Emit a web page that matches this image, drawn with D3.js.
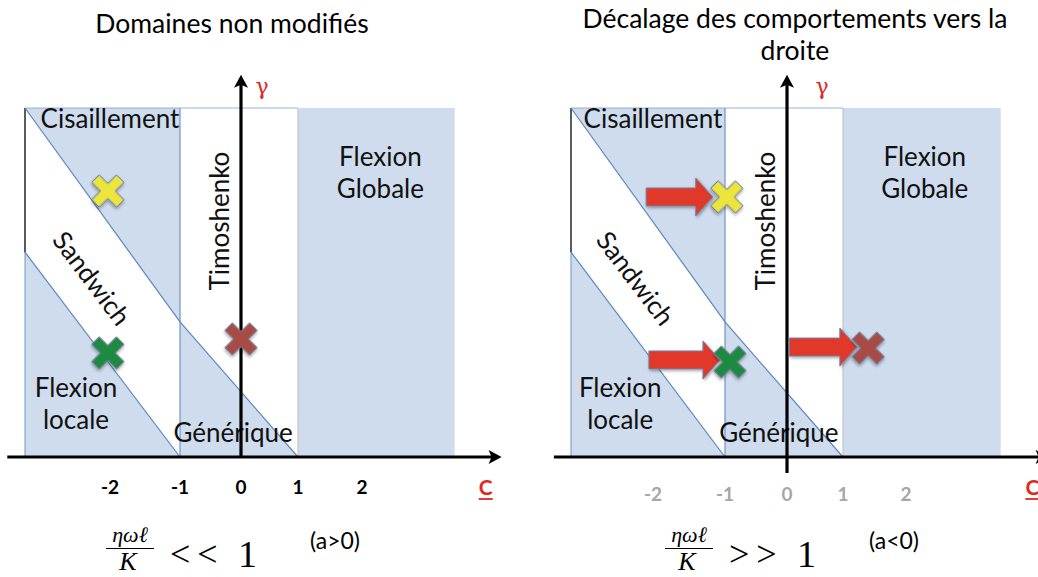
<!DOCTYPE html>
<html><head><meta charset="utf-8">
<script src="https://cdn.jsdelivr.net/npm/d3@7"></script>
<style>
html,body{margin:0;padding:0;background:#fff;}
svg{display:block;}
</style></head>
<body>
<svg id="chart" width="1038" height="577"></svg>
<script>
// ---------------- DATA ----------------
const cTicks = [-2, -1, 0, 1, 2];
const cBreaks = [-3.2, -2, -1, 0, 1, 2, 3.45];       // scale breakpoints (zone edges + ticks)
const zoneC = [-3.2, -1, 1, 3.45];                   // domain boundaries along C
const gammaTop = 1;
const upperDiagC = [-3.2, -1, 1];
const upperDiagG = [1, 0.387, 0];
const lowerDiagC = [-3.2, -1];
const lowerDiagG = [0.587, 0];
const axisC = [-3.45, 4.2];
const axisG = [-0.046, 1.095];

const zoneLabels = ["Cisaillement", "Flexion", "Globale", "Timoshenko", "Sandwich", "Flexion", "locale", "Générique"];
const zoneLabelC = [-2.0, 2.29, 2.29, -0.2, -2.25, -2.48, -2.48, -0.13];
const zoneLabelG = [0.943, 0.834, 0.742, 0.676, 0.513, 0.172, 0.08, 0.043];
const zoneLabelRot = [0, 0, 0, -90, 53, 0, 0, 0];

const crossColors = ["#ece53a", "#1f8a40", "#a84b45"];
const crossC_left = [-2.03, -2.03, 0.0];
const crossG_left = [0.762, 0.298, 0.338];
const crossC_right = [-0.97, -0.92, 1.40];
const crossG_right = [0.745, 0.272, 0.312];

const arrowFromC = [-2.10, -2.06, 0.04];
const arrowToC = [-1.17, -1.07, 1.22];
const arrowG = [0.745, 0.278, 0.315];

const titleLeft = ["Domaines non modifiés"];
const titleRight = ["Décalage des comportements vers la", "droite"];
const condLeft = ["<<", "(a>0)"];
const condRight = [">>", "(a<0)"];

// ---------------- LAYOUT ----------------
const svg = d3.select("#chart");
const defs = svg.append("defs");
const f = defs.append("filter").attr("id", "shadow").attr("x", "-30%").attr("y", "-30%").attr("width", "160%").attr("height", "160%");
f.append("feDropShadow").attr("dx", 1.2).attr("dy", 1.5).attr("stdDeviation", 1.4).attr("flood-color", "#000").attr("flood-opacity", 0.35);

const BLUE = "#cedced";
const EDGE = "#6f94c4";
const FONT = "Lato, 'Open Sans', sans-serif";

const panels = [
  { range: [25, 110, 180, 241, 298, 362, 454], tickColor: "#000", title: titleLeft, titleX: 232, titleY: [33],
    crossC: crossC_left, crossG: crossG_left, arrows: false, cond: condLeft, fx: 130, gammaDx: 21, tickY: 494 },
  { range: [571, 653, 725, 787, 843, 906, 1000], tickColor: "#a6a6a6", title: titleRight, titleX: 795, titleY: [28, 60],
    crossC: crossC_right, crossG: crossG_right, arrows: true, cond: condRight, fx: 689, gammaDx: 35, tickY: 501 }
];

const y = d3.scaleLinear().domain([0, 1]).range([457, 108]);

panels.forEach((p, pi) => {
  const x = d3.scaleLinear().domain(cBreaks).range(p.range);
  const g = svg.append("g");

  // title
  p.title.forEach((t, i) => {
    g.append("text").attr("x", p.titleX).attr("y", p.titleY[i]).attr("text-anchor", "middle")
      .attr("font-family", FONT).attr("font-size", 26.5).attr("fill", "#000").text(t);
  });

  const line = d3.line().x(d => x(d[0])).y(d => y(d[1]));

  // blue zones
  g.append("path").attr("d", line([[zoneC[0], gammaTop], [zoneC[1], gammaTop], [upperDiagC[1], upperDiagG[1]]]) + "Z").attr("fill", BLUE);
  g.append("path").attr("d", line([[lowerDiagC[0], lowerDiagG[0]], [zoneC[0], 0], [lowerDiagC[1], lowerDiagG[1]]]) + "Z").attr("fill", BLUE);
  g.append("path").attr("d", line([[upperDiagC[1], upperDiagG[1]], [zoneC[1], 0], [upperDiagC[2], upperDiagG[2]]]) + "Z").attr("fill", BLUE);
  g.append("rect").attr("x", x(zoneC[2])).attr("y", y(gammaTop)).attr("width", x(zoneC[3]) - x(zoneC[2]))
    .attr("height", y(0) - y(gammaTop)).attr("fill", BLUE);
  g.append("line").attr("x1", x(zoneC[3])).attr("x2", x(zoneC[3])).attr("y1", y(gammaTop)).attr("y2", y(0))
    .attr("stroke", "#d6dde8").attr("stroke-width", 1.5);

  // outlines
  g.append("path").attr("d", line([[zoneC[0], 0], [zoneC[0], lowerDiagG[0]]])).attr("stroke", EDGE).attr("stroke-width", 1).attr("fill", "none");
  g.append("path").attr("d", line([[zoneC[0], lowerDiagG[0]], [zoneC[0], gammaTop]])).attr("stroke", "#333").attr("stroke-width", 1.6).attr("fill", "none");
  g.append("path").attr("d", line([[zoneC[0], gammaTop], [zoneC[2], gammaTop]])).attr("stroke", EDGE).attr("stroke-width", 1).attr("fill", "none").attr("opacity", 0.7);
  g.append("path").attr("d", line([[zoneC[1], gammaTop], [zoneC[1], 0]])).attr("stroke", EDGE).attr("stroke-width", 1.2).attr("fill", "none");
  g.append("path").attr("d", line([[zoneC[2], gammaTop], [zoneC[2], 0]])).attr("stroke", "#c4c4c4").attr("stroke-width", 1.2).attr("fill", "none");
  g.append("path").attr("d", line(upperDiagC.map((c, i) => [c, upperDiagG[i]]))).attr("stroke", "#5a86c0").attr("stroke-width", 1.2).attr("fill", "none");
  g.append("path").attr("d", line(lowerDiagC.map((c, i) => [c, lowerDiagG[i]]))).attr("stroke", "#5a86c0").attr("stroke-width", 1.2).attr("fill", "none");

  // zone labels
  zoneLabels.forEach((t, i) => {
    const lx = x(zoneLabelC[i]), ly = y(zoneLabelG[i]);
    const tx = g.append("text").attr("font-family", FONT).attr("font-size", 26).attr("fill", "#111").text(t);
    if (zoneLabelRot[i] === 0) {
      tx.attr("x", lx).attr("y", ly).attr("text-anchor", "middle");
    } else {
      tx.attr("text-anchor", "middle").attr("dominant-baseline", zoneLabelRot[i] === -90 ? "auto" : "central")
        .attr("transform", `translate(${lx},${ly}) rotate(${zoneLabelRot[i]})`);
    }
  });

  // axes
  const x0 = x(axisC[0]), x1 = x(axisC[1]), y0 = y(0);
  g.append("line").attr("x1", x0).attr("x2", x1 - 8).attr("y1", y0).attr("y2", y0).attr("stroke", "#000").attr("stroke-width", 3.2);
  g.append("path").attr("d", `M${x1},${y0} L${x1 - 13},${y0 - 7} L${x1 - 10},${y0} L${x1 - 13},${y0 + 7}Z`).attr("fill", "#000");
  const ax = x(0), yt = y(axisG[1]), yb = y(axisG[0]);
  g.append("line").attr("x1", ax).attr("x2", ax).attr("y1", pi === 0 ? y0 : yb).attr("y2", yt + 8).attr("stroke", "#000").attr("stroke-width", 3.2);
  g.append("path").attr("d", `M${ax},${yt} L${ax - 7},${yt + 13} L${ax},${yt + 10} L${ax + 7},${yt + 13}Z`).attr("fill", "#000");

  // gamma label
  g.append("text").attr("x", ax + p.gammaDx).attr("y", yt + 19).attr("text-anchor", "middle")
    .attr("font-family", "'DejaVu Serif', serif").attr("font-size", 22).attr("fill", "#e0281e").text("γ");

  // C label
  g.append("text").attr("x", x(3.95)).attr("y", 495).attr("text-anchor", "middle").attr("font-family", FONT)
    .attr("font-weight", "bold").attr("font-size", 21).attr("fill", "#e0281e").text("C");
  g.append("line").attr("x1", x(3.95) - 7).attr("x2", x(3.95) + 7).attr("y1", 499).attr("y2", 499).attr("stroke", "#e0281e").attr("stroke-width", 1.8);

  // tick labels
  g.selectAll(".tk").data(cTicks).join("text").attr("x", d => x(d)).attr("y", p.tickY).attr("text-anchor", "middle")
    .attr("font-family", FONT).attr("font-weight", "bold").attr("font-size", 19).attr("fill", p.tickColor).text(d => d);

  // arrows
  if (p.arrows) {
    arrowFromC.forEach((c, i) => {
      const xa = x(c), xb = x(arrowToC[i]), ya = y(arrowG[i]);
      const hs = 9, hh = 19, hl = 17;
      g.append("path").attr("d", `M${xa},${ya - hs} L${xb - hl},${ya - hs} L${xb - hl},${ya - hh} L${xb},${ya} L${xb - hl},${ya + hh} L${xb - hl},${ya + hs} L${xa},${ya + hs}Z`)
        .attr("fill", "#e2392a").attr("stroke", "#6c84ad").attr("stroke-width", 1).attr("filter", "url(#shadow)");
    });
  }

  // crosses
  const a = 17.5, b = 5.2;
  const plus = `M${b},${-a}L${b},${-b}L${a},${-b}L${a},${b}L${b},${b}L${b},${a}L${-b},${a}L${-b},${b}L${-a},${b}L${-a},${-b}L${-b},${-b}L${-b},${-a}Z`;
  p.crossC.forEach((c, i) => {
    g.append("path").attr("d", plus).attr("transform", `translate(${x(c)},${y(p.crossG[i])}) rotate(45)`)
      .attr("fill", crossColors[i]).attr("stroke", "#6f809c").attr("stroke-width", 1).attr("filter", "url(#shadow)");
  });

  // formula
  const fx = p.fx;
  g.append("text").attr("x", fx).attr("y", 542).attr("text-anchor", "middle").attr("font-family", "'Liberation Serif', serif")
    .attr("font-style", "italic").attr("font-size", 22).text("ηωℓ");
  g.append("line").attr("x1", fx - 24).attr("x2", fx + 24).attr("y1", 548.5).attr("y2", 548.5).attr("stroke", "#000").attr("stroke-width", 1.2);
  g.append("text").attr("x", fx - 2).attr("y", 570).attr("text-anchor", "middle").attr("font-family", "'Liberation Serif', serif")
    .attr("font-style", "italic").attr("font-size", 26).text("K");
  g.append("text").attr("x", fx + 40).attr("y", 566).attr("font-family", "'Liberation Serif', serif")
    .attr("font-size", 36).attr("letter-spacing", 7).text(p.cond[0]);
  g.append("text").attr("x", fx + 108).attr("y", 567).attr("font-family", "'Liberation Serif', serif")
    .attr("font-size", 38).text("1");
  g.append("text").attr("x", fx + 180).attr("y", 549).attr("font-family", FONT).attr("font-size", 23).text(p.cond[1]);
});
</script>
</body></html>
